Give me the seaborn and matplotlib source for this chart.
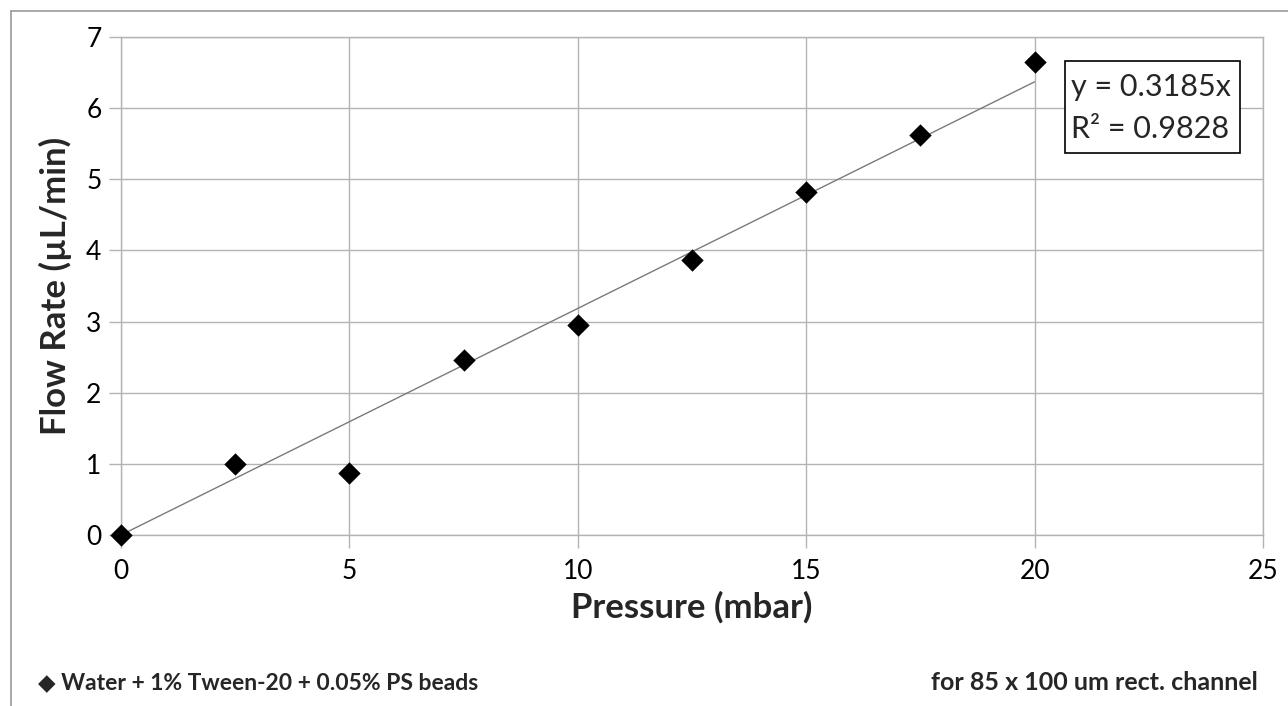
import matplotlib
matplotlib.use("Agg")
import matplotlib.pyplot as plt
from matplotlib.patches import Rectangle
import seaborn as sns
import pandas as pd
import numpy as np

pressure = [0, 2.5, 5, 7.5, 10, 12.5, 15, 17.5, 20]
flow_rate = [0.0, 1.0, 0.87, 2.46, 2.95, 3.86, 4.82, 5.62, 6.65]
slope = 0.3185
r2 = 0.9828
x_ticks = [0, 5, 10, 15, 20, 25]
y_ticks = [0, 1, 2, 3, 4, 5, 6, 7]
series_label = "Water + 1% Tween-20 + 0.05% PS beads"
note_label = "for 85 x 100 um rect. channel"

sns.set_theme(style="white")
plt.rcParams['font.family'] = ['Lato', 'DejaVu Sans']

df = pd.DataFrame({"Pressure": pressure, "Flow": flow_rate})
fit_x = [0, max(pressure)]
fit_df = pd.DataFrame({"Pressure": fit_x, "Flow": [slope * v for v in fit_x]})

W, H = 1288, 706
fig = plt.figure(figsize=(12.88, 7.06), dpi=100)
ax = fig.add_axes([121/W, 1 - 535/H, (1263-121)/W, (535-37)/H])

grid_c = "#b3b3b3"
sns.lineplot(data=fit_df, x="Pressure", y="Flow", ax=ax, color="#7a7a7a", linewidth=1.0, zorder=2)
sns.scatterplot(data=df, x="Pressure", y="Flow", ax=ax, marker="D", s=130, color="black",
                edgecolor="black", linewidth=0, zorder=3, clip_on=False)

ax.set_xlim(0, 25)
ax.set_ylim(0, 7)
ax.set_xticks(x_ticks)
ax.set_yticks(y_ticks)
ax.grid(True, color=grid_c, linewidth=1.0)
ax.set_axisbelow(True)
for s in ax.spines.values():
    s.set_color(grid_c)
    s.set_linewidth(1.0)
ax.tick_params(axis="both", which="major", direction="out", length=9, width=1.0,
               color=grid_c, labelsize=19, labelcolor="black", pad=5)
ax.tick_params(axis="x", pad=8)
ax.tick_params(left=True, bottom=True)

ax.set_xlabel("Pressure (mbar)", fontsize=25, fontweight="bold", labelpad=5)
ax.set_ylabel("Flow Rate (\u00b5L/min)", fontsize=25, fontweight="bold", labelpad=10)

# trendline equation box
fig.add_artist(Rectangle((1065/W, 1 - 153/H), (1240-1065)/W, (153-61)/H,
                         transform=fig.transFigure, facecolor="white",
                         edgecolor="black", linewidth=1.2, zorder=5))
fig.text(1071/W, 1 - 87/H, f"y = {slope}x", fontsize=22, ha="left", va="center", zorder=6)
fig.text(1071/W, 1 - 129/H, f"R\u00b2 = {r2}", fontsize=22, ha="left", va="center", zorder=6)

fig.text(38/W, 1 - 683/H, "\u25c6 " + series_label, fontsize=16.5, fontweight="bold",
         ha="left", va="center", family=['Lato', 'DejaVu Sans'])
fig.text(1258/W, 1 - 683/H, note_label, fontsize=18, fontweight="bold",
         ha="right", va="center")

# outer chart border (top and left)
fig.add_artist(plt.Line2D([11/W, 1], [1 - 11/H, 1 - 11/H], color="#999999", linewidth=1.2))
fig.add_artist(plt.Line2D([11/W, 11/W], [0, 1 - 11/H], color="#999999", linewidth=1.2))

fig.savefig("out.png", dpi=100)
